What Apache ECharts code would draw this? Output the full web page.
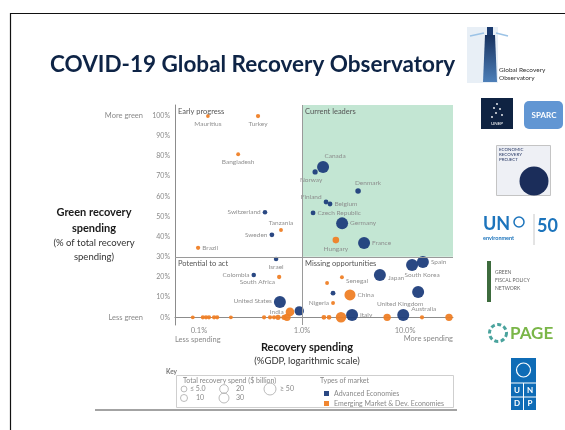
<!DOCTYPE html>
<html><head><meta charset="utf-8">
<script src="https://cdn.jsdelivr.net/npm/echarts@6/dist/echarts.min.js"></script>
<style>html,body{margin:0;padding:0;background:#fff}#c{width:565px;height:430px}</style>
</head><body><div id="c"></div>
<script>
// ---------- data ----------
const titleText = 'COVID-19 Global Recovery Observatory';
const yTicks = [0,10,20,30,40,50,60,70,80,90,100];
const xTickValues = [0.1, 1, 10];
const quadrantNames = ['Early progress','Current leaders','Potential to act','Missing opportunities'];
const spendLegendRow1 = [5, 20, 50];
const spendLegendRow1Text = ['≤ 5.0', '20', '≥ 50'];
const spendLegendRow2 = [10, 30];
const spendLegendRow2Text = ['10', '30'];

// Advanced economies: recovery spending (%GDP), green share (%), total spend ($bn)
const advNames    = ['Canada','Norway','Denmark','Finland','Belgium','Czech Republic','Germany','France','Spain','South Korea','Japan','United Kingdom','Australia','Italy','United States','Switzerland','Sweden','Israel','Colombia','',''];
const advRecovery = [1.60, 1.34, 3.50, 1.71, 1.87, 1.28, 2.45, 4.0, 14.9, 11.7, 5.7, 13.4, 9.6, 3.06, 0.61, 0.437, 0.51, 0.56, 0.34, 0.94, 2.0];
const advGreen    = [74.6, 72.1, 62.7, 57.2, 56.2, 51.8, 46.6, 36.9, 27.5, 26.0, 21.0, 12.6, 1.2, 1.2, 7.6, 52.1, 40.9, 28.9, 21.0, 3.2, 12.0];
const advSpend    = [60, 3, 4, 2, 2, 2, 60, 60, 55, 55, 50, 50, 55, 50, 60, 1.5, 2, 1.5, 1.5, 25, 2];

// Emerging market & developing economies
const emNames    = ['Mauritius','Turkey','Bangladesh','Tanzania','Brazil','Hungary','South Africa','Senegal','','China','Nigeria','India','','','','','','','','','','','','','','','','','','',''];
const emRecovery = [0.122, 0.374, 0.24, 0.625, 0.098, 2.13, 0.60, 2.44, 1.75, 2.92, 2.0, 0.764, 0.087, 0.109, 0.117, 0.125, 0.140, 0.150, 0.204, 0.428, 0.489, 0.535, 0.585, 0.669, 0.715, 1.63, 1.83, 2.39, 6.7, 14.6, 26.7];
const emGreen    = [99.8, 99.8, 80.9, 43.3, 34.5, 38.3, 20.0, 19.9, 17.0, 11.1, 7.1, 2.7, 0,0,0,0,0,0,0,0,0,0,0,0,0,0,0,0,0,0,0];
const emSpend    = [0.3, 1, 0.5, 0.5, 1, 8, 1, 0.5, 0.5, 40, 0.5, 20, 0.5, 1, 1, 1, 1, 1, 0.5, 1, 1, 1, 3, 3, 12, 2, 2, 35, 12, 1, 12];

// ---------- styling / layout ----------
const X_MIN = 0.0585, X_MAX = 29.2, Y_MIN = -3.8, Y_MAX = 105.3;
const NAVY = '#1f3e7c', ORANGE = '#ef7f26';
const FONT = 'Lato';
const labelPos = {
  'Mauritius':['bottom',[0,0]], 'Turkey':['bottom',[0,0]], 'Bangladesh':['bottom',[0,0]],
  'Tanzania':['top',[0,0]], 'Brazil':['right',[0,0]], 'Hungary':['bottom',[0,0]],
  'South Africa':['left',[0,5]], 'Senegal':['right',[0,4]], 'China':['right',[0,0]],
  'Nigeria':['left',[0,0]], 'India':['left',[0,0]],
  'Canada':['top',[12,0]], 'Norway':['bottom',[-4,0]], 'Denmark':['top',[10,0]],
  'Finland':['left',[0,-5]], 'Belgium':['right',[0,0]], 'Czech Republic':['right',[0,0]],
  'Germany':['right',[0,0]], 'France':['right',[0,0]], 'Spain':['right',[0,0]],
  'South Korea':['bottom',[10,-2]], 'Japan':['right',[0,3]], 'United Kingdom':['bottom',[-18,0]],
  'Australia':['right',[0,-6]], 'Italy':['right',[0,0]], 'United States':['left',[0,-1]],
  'Switzerland':['left',[0,0]], 'Sweden':['left',[0,0]], 'Israel':['bottom',[0,0]], 'Colombia':['left',[0,0]]
};
function sizeOf(s){ return 3 + 9*Math.sqrt(Math.min(s,50)/50); }
function build(names, xs, ys, sp){
  return names.map((n,i)=>{
    const item = {name:n, value:[xs[i], ys[i], sp[i]]};
    const p = labelPos[n];
    if (n && p) item.label = {show:true, position:p[0], offset:p[1]};
    return item;
  });
}
function isTick(v){ return xTickValues.some(t=>Math.abs(t-v) < 1e-9*Math.max(1,t)+1e-9); }

const chart = echarts.init(document.getElementById('c'));
const ptLabel = {show:false, formatter:'{b}', fontSize:6.5, color:'#8a8a8a', fontFamily:FONT, distance:2};

const graphic = [];
// slide border
graphic.push({type:'rect', shape:{x:10.5,y:13.5,width:700,height:600}, style:{fill:'none', stroke:'#111', lineWidth:1.2}, silent:true});
// title
graphic.push({type:'text', x:50, y:65, style:{text:titleText, fontSize:22.5, fontWeight:'bold', fontFamily:FONT, fill:'#0e2446', verticalAlign:'middle'}});
// axis titles
const tLeft = [['Green recovery',212,true],['spending',228,true],['(% of total recovery',243,false],['spending)',257,false]];
tLeft.forEach(t=>graphic.push({type:'text', x:94, y:t[1], style:{text:t[0], fontSize:t[2]?11:9.5, fontWeight:t[2]?'bold':'normal', fontFamily:FONT, fill:t[2]?'#1a1a1a':'#333', align:'center', verticalAlign:'middle'}}));
graphic.push({type:'text', x:307, y:347, style:{text:'Recovery spending', fontSize:11, fontWeight:'bold', fontFamily:FONT, fill:'#1a1a1a', align:'center', verticalAlign:'middle'}});
graphic.push({type:'text', x:307, y:361, style:{text:'(%GDP, logarithmic scale)', fontSize:9.5, fontFamily:FONT, fill:'#333', align:'center', verticalAlign:'middle'}});
graphic.push({type:'text', x:175, y:340, style:{text:'Less spending', fontSize:7.5, fontFamily:FONT, fill:'#8a8a8a', align:'left', verticalAlign:'middle'}});
graphic.push({type:'text', x:453, y:339, style:{text:'More spending', fontSize:7.5, fontFamily:FONT, fill:'#8a8a8a', align:'right', verticalAlign:'middle'}});
// key box
graphic.push({type:'text', x:166, y:372, style:{text:'Key', fontSize:6.5, fontWeight:'bold', fontFamily:FONT, fill:'#777', verticalAlign:'middle'}});
graphic.push({type:'rect', shape:{x:176.5,y:375.5,width:277,height:32}, style:{fill:'none', stroke:'#cfcfcf', lineWidth:1}});
graphic.push({type:'text', x:183, y:381, style:{text:'Total recovery spend ($ billion)', fontSize:7, fontFamily:FONT, fill:'#888', verticalAlign:'middle'}});
graphic.push({type:'text', x:320, y:381, style:{text:'Types of market', fontSize:7, fontFamily:FONT, fill:'#888', verticalAlign:'middle'}});
const row1X = [[184,190],[224,236],[270,280]];
spendLegendRow1.forEach((s,i)=>{
  graphic.push({type:'circle', shape:{cx:row1X[i][0], cy:389, r:sizeOf(s)/2}, style:{fill:'none', stroke:'#aaa', lineWidth:0.8}});
  graphic.push({type:'text', x:row1X[i][1], y:389, style:{text:spendLegendRow1Text[i], fontSize:7, fontFamily:FONT, fill:'#888', verticalAlign:'middle'}});
});
const row2X = [[184,196],[224,236]];
spendLegendRow2.forEach((s,i)=>{
  graphic.push({type:'circle', shape:{cx:row2X[i][0], cy:398, r:sizeOf(s)/2}, style:{fill:'none', stroke:'#aaa', lineWidth:0.8}});
  graphic.push({type:'text', x:row2X[i][1], y:398, style:{text:spendLegendRow2Text[i], fontSize:7, fontFamily:FONT, fill:'#888', verticalAlign:'middle'}});
});
// bottom gray rule
graphic.push({type:'line', shape:{x1:95,y1:410,x2:457,y2:410}, style:{stroke:'#a3a3a3', lineWidth:2}});

// ---- logos (approximations) ----
// lighthouse
graphic.push({type:'rect', shape:{x:467,y:27,width:31,height:56}, style:{fill:'#e8eff6'}});
graphic.push({type:'polyline', shape:{points:[[470,36],[484,33]]}, style:{stroke:'#9cc3e6', lineWidth:1.5}});
graphic.push({type:'polyline', shape:{points:[[496,33],[508,36]]}, style:{stroke:'#9cc3e6', lineWidth:1.5}});
graphic.push({type:'rect', shape:{x:487,y:27,width:6,height:8}, style:{fill:'#1a3a6e'}});
graphic.push({type:'polygon', shape:{points:[[485,35],[495,35],[497,82],[483,82]]}, style:{fill:new echarts.graphic.LinearGradient(0,0,0,1,[{offset:0,color:'#17325f'},{offset:1,color:'#4d7fb8'}])}});
graphic.push({type:'text', x:499, y:70, style:{text:'Global Recovery', fontSize:6.5, fontFamily:FONT, fill:'#333', verticalAlign:'middle'}});
graphic.push({type:'text', x:499, y:78, style:{text:'Observatory', fontSize:6.5, fontFamily:FONT, fill:'#333', verticalAlign:'middle'}});
// dark square
graphic.push({type:'rect', shape:{x:481,y:98,width:32,height:31}, style:{fill:'#0f2342'}});
[[497,104],[494,108],[500,109],[496,113],[502,115],[492,117]].forEach(p=>graphic.push({type:'circle', shape:{cx:p[0],cy:p[1],r:0.9}, style:{fill:'#fff'}}));
graphic.push({type:'text', x:497, y:124, style:{text:'UNEP', fontSize:4.5, fontFamily:FONT, fill:'#fff', align:'center', verticalAlign:'middle'}});
// blue blob
graphic.push({type:'rect', shape:{x:524,y:101,width:39,height:28,r:5}, style:{fill:'#6196d3'}});
graphic.push({type:'text', x:544, y:115, style:{text:'SPARC', fontSize:8, fontWeight:'bold', fontFamily:FONT, fill:'#fff', align:'center', verticalAlign:'middle'}});
// economic recovery project square
graphic.push({type:'rect', shape:{x:496.5,y:145.5,width:54,height:50}, style:{fill:'#eef0f5', stroke:'#c4c4c4', lineWidth:1}});
['ECONOMIC','RECOVERY','PROJECT'].forEach((t,i)=>graphic.push({type:'text', x:499, y:150+i*5, style:{text:t, fontSize:4.5, fontFamily:FONT, fill:'#2a3a66', verticalAlign:'middle'}}));
graphic.push({type:'circle', shape:{cx:534,cy:181,r:14.5}, style:{fill:'#1b2d5a'}});
// UN environment 50
graphic.push({type:'text', x:483, y:224, style:{text:'UN', fontSize:18, fontWeight:'bold', fontFamily:FONT, fill:'#1c74bc', verticalAlign:'middle'}});
graphic.push({type:'circle', shape:{cx:519,cy:222,r:5}, style:{fill:'none', stroke:'#1c74bc', lineWidth:1.5}});
graphic.push({type:'text', x:483, y:238, style:{text:'environment', fontSize:5.5, fontWeight:'bold', fontFamily:FONT, fill:'#1c74bc', verticalAlign:'middle'}});
graphic.push({type:'line', shape:{x1:534,y1:214,x2:534,y2:245}, style:{stroke:'#c8c8c8', lineWidth:1}});
graphic.push({type:'text', x:537, y:226, style:{text:'50', fontSize:18, fontWeight:'bold', fontFamily:FONT, fill:'#1c74bc', verticalAlign:'middle'}});
// green fiscal policy network
graphic.push({type:'rect', shape:{x:487,y:261,width:4,height:41}, style:{fill:'#3d6b3d'}});
['GREEN','FISCAL POLICY','NETWORK'].forEach((t,i)=>graphic.push({type:'text', x:495, y:272+i*8, style:{text:t, fontSize:5, fontFamily:FONT, fill:'#666', verticalAlign:'middle'}}));
// PAGE
graphic.push({type:'circle', shape:{cx:498,cy:333,r:8.5}, style:{fill:'none', stroke:'#4aa39d', lineWidth:3, lineDash:[4,2.5]}});
graphic.push({type:'text', x:510, y:334, style:{text:'PAGE', fontSize:17, fontWeight:'bold', fontFamily:FONT, fill:'#7ab648', verticalAlign:'middle'}});
// UNDP
graphic.push({type:'rect', shape:{x:511,y:358,width:25,height:52}, style:{fill:'#0f6cb6'}});
graphic.push({type:'circle', shape:{cx:523.5,cy:370,r:7}, style:{fill:'none', stroke:'#fff', lineWidth:1.2}});
graphic.push({type:'line', shape:{x1:511,y1:383,x2:536,y2:383}, style:{stroke:'#fff', lineWidth:1}});
graphic.push({type:'line', shape:{x1:511,y1:397,x2:536,y2:397}, style:{stroke:'#fff', lineWidth:1}});
graphic.push({type:'line', shape:{x1:523.5,y1:383,x2:523.5,y2:410}, style:{stroke:'#fff', lineWidth:1}});
[['U',517,390],['N',530,390],['D',517,403.5],['P',530,403.5]].forEach(l=>graphic.push({type:'text', x:l[1], y:l[2], style:{text:l[0], fontSize:8, fontWeight:'bold', fontFamily:FONT, fill:'#fff', align:'center', verticalAlign:'middle'}}));

const quadLabel = {show:true, position:'insideTopLeft', fontSize:7.5, color:'#555', fontFamily:FONT, distance:3, formatter:'{b}'};
const option = {
  animation:false,
  textStyle:{fontFamily:FONT},
  grid:{left:175, right:112, top:105, bottom:105},
  xAxis:{type:'log', logBase:10, min:X_MIN, max:X_MAX,
    axisLine:{show:true, lineStyle:{color:'#8c8c8c', width:1}}, axisTick:{show:false}, splitLine:{show:false},
    axisLabel:{showMinLabel:false, showMaxLabel:false, fontSize:7.5, color:'#8a8a8a', margin:2, fontFamily:FONT,
      formatter:v=> isTick(v) ? Number(v).toFixed(1)+'%' : ''}},
  yAxis:{type:'value', min:Y_MIN, max:Y_MAX,
    axisLine:{show:true, lineStyle:{color:'#8c8c8c', width:1}}, axisTick:{show:false}, splitLine:{show:false},
    axisLabel:{customValues:yTicks, margin:5, fontFamily:FONT,
      formatter:v=> v===100 ? '{g|More green}{n|100%}' : (v===0 ? '{g|Less green}{n|0%}' : '{n|'+v+'%}'),
      rich:{g:{fontSize:7.5, color:'#8a8a8a', padding:[0,8,0,0], fontFamily:FONT}, n:{fontSize:7, color:'#8a8a8a', width:19, align:'right', fontFamily:FONT}}}},
  legend:{data:['Advanced Economies','Emerging Market & Dev. Economies'], orient:'vertical', left:319, top:385,
    itemWidth:5, itemHeight:5, itemGap:3, icon:'rect', textStyle:{fontSize:7, color:'#888', fontFamily:FONT}},
  graphic:graphic,
  series:[
    {type:'scatter', name:'Emerging Market & Dev. Economies', data:build(emNames, emRecovery, emGreen, emSpend),
     symbolSize:v=>sizeOf(v[2]), itemStyle:{color:ORANGE, opacity:0.95}, label:ptLabel, clip:false,
     markArea:{silent:true, label:quadLabel, data:[
       [{name:quadrantNames[1], xAxis:1, yAxis:30, itemStyle:{color:'#c3e6d3'}}, {xAxis:X_MAX, yAxis:Y_MAX}],
       [{name:quadrantNames[0], xAxis:X_MIN, yAxis:30, itemStyle:{color:'rgba(0,0,0,0)'}}, {xAxis:1, yAxis:Y_MAX}],
       [{name:quadrantNames[2], xAxis:X_MIN, yAxis:Y_MIN, itemStyle:{color:'rgba(0,0,0,0)'}}, {xAxis:1, yAxis:30}],
       [{name:quadrantNames[3], xAxis:1, yAxis:Y_MIN, itemStyle:{color:'rgba(0,0,0,0)'}}, {xAxis:X_MAX, yAxis:30}]
     ]},
     markLine:{silent:true, symbol:'none', label:{show:false}, lineStyle:{color:'#9a9a9a', width:1, type:'solid'},
       data:[{xAxis:1},{yAxis:30}]}},
    {type:'scatter', name:'Advanced Economies', data:build(advNames, advRecovery, advGreen, advSpend),
     symbolSize:v=>sizeOf(v[2]), itemStyle:{color:NAVY, opacity:0.95}, label:ptLabel, clip:false}
  ]
};
chart.setOption(option);
</script></body></html>
